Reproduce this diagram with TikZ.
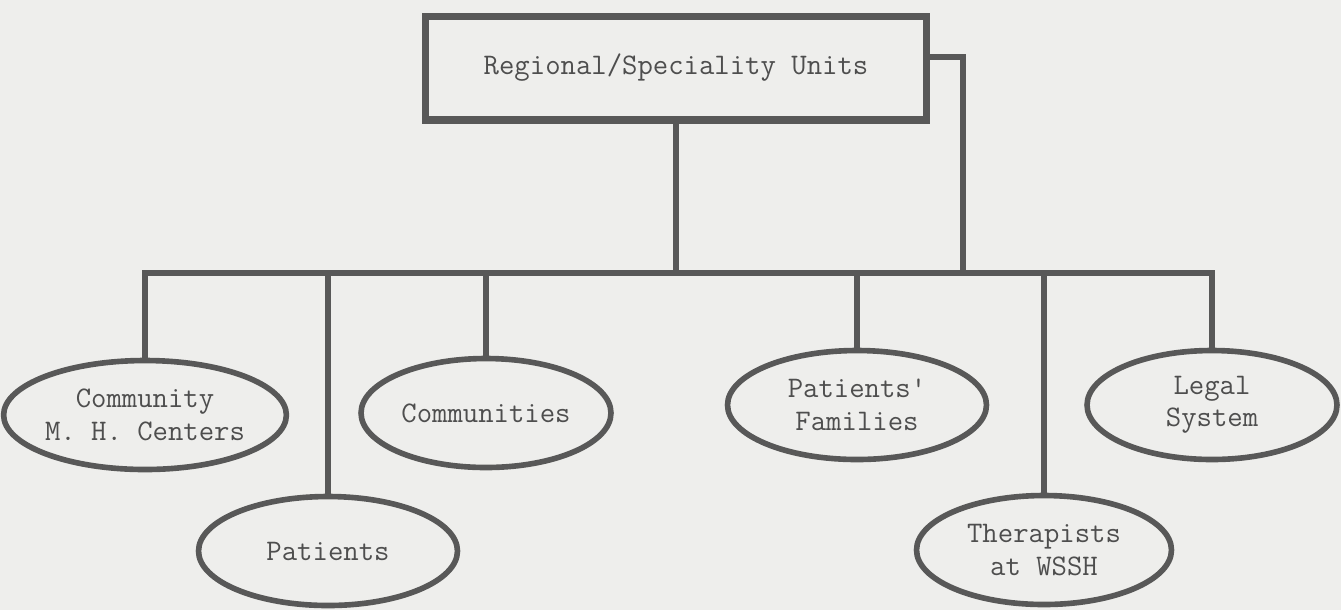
\documentclass[tikz,border=0pt]{standalone}
\usepackage{fontspec}
\usetikzlibrary{shapes.geometric}

\definecolor{paper}{RGB}{238,238,236}
\definecolor{inkgray}{RGB}{78,78,78}
\definecolor{linegray}{RGB}{88,88,88}

\begin{document}
\begin{tikzpicture}[
    x=0.02cm, y=-0.02cm,
    every node/.style={font=\ttfamily\fontsize{17}{18.5}\selectfont, text=inkgray, align=center},
    unitbox/.style={draw=linegray, line width=4pt, rectangle, minimum width=10.04cm, minimum height=2.08cm},
    party/.style={draw=linegray, line width=3.2pt, ellipse, minimum width=5.18cm, minimum height=2.18cm, inner sep=0pt},
    link/.style={draw=linegray, line width=3.2pt, line join=miter}
]
\useasboundingbox (0,0) rectangle (1341,610);
\fill[paper] (0,0) rectangle (1341,610);

\node[unitbox] (units) at (676,68) {Regional/Speciality Units};

\node[party] (cmhc) at (145,415) {Community\\M. H. Centers};
\node[party] (patients) at (328,551) {Patients};
\node[party, minimum width=5.0cm] (communities) at (486,413) {Communities};
\node[party] (families) at (857,405) {Patients'\\Families};
\node[party, minimum width=5.1cm] (therapists) at (1044,550) {Therapists\\at WSSH};
\node[party, minimum width=5.0cm] (legal) at (1212,405) {Legal\\System};

% main bar
\coordinate (bar) at (0,273);
\coordinate (tab) at (963,57);
\draw[link] (cmhc.north) -- (cmhc.north |- bar) -- (legal.north |- bar) -- (legal.north);
\foreach \n in {patients, communities, families, therapists}
  \draw[link] (\n.north) -- (\n.north |- bar);
\draw[link] (units.south) -- (units.south |- bar);
\draw[link] (units.east |- tab) -- (tab) -- (tab |- bar);
\end{tikzpicture}
\end{document}
